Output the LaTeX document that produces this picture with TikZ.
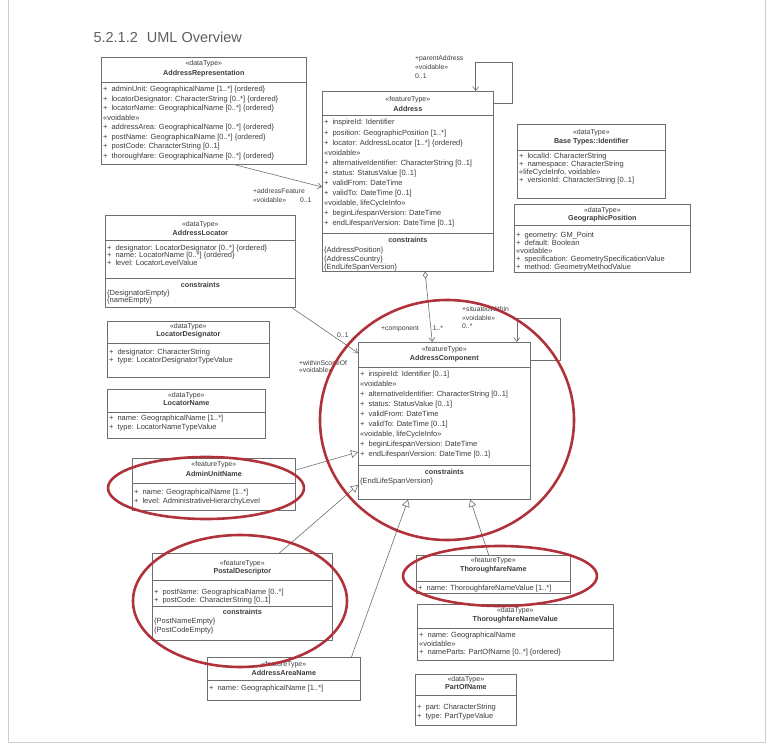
\documentclass[tikz,border=0pt]{standalone}
\usepackage{fontspec}
\setmainfont{Liberation Sans}
\usetikzlibrary{arrows.meta,calc}
\definecolor{frameline}{RGB}{205,205,205}
\definecolor{boxline}{RGB}{110,110,110}
\definecolor{txt}{RGB}{60,60,60}
\definecolor{mark}{RGB}{176,50,58}
\definecolor{titlegray}{RGB}{95,95,95}
\newcommand\pub{+\hspace{4pt}}

\begin{document}
\begin{tikzpicture}[x=1pt,y=-1pt,
    cls/.style={draw=boxline,line width=0.7pt,fill=white,inner sep=0pt,
      anchor=north west},
    sep/.style={draw=boxline,line width=0.7pt},
    stereo/.style={font=\fontsize{7}{8}\selectfont,text=txt,inner sep=0pt},
    cname/.style={font=\fontsize{7.2}{8}\selectfont\bfseries,text=txt,inner sep=0pt},
    attrs/.style={font=\fontsize{7.5}{#1}\selectfont,text=txt,inner sep=0pt,
      align=left,anchor=north west},
    role/.style={font=\fontsize{6.8}{#1}\selectfont,text=txt,inner sep=0pt,
      align=left,anchor=north west},
    assoc/.style={draw=boxline,line width=0.6pt,-{Straight Barb[length=4pt,width=6pt]}},
    gen/.style={draw=boxline,line width=0.6pt,-{Triangle[open,length=7pt,width=8pt]}},
    ring/.style={draw=mark,line width=2.6pt}
  ]
  \useasboundingbox (0,0) rectangle (772,749);
  \draw[frameline,line width=0.8pt] (8,0) -- (8,742) -- (765,742) -- (765,0);

  \node[font=\fontsize{14.5}{16}\selectfont,text=titlegray,anchor=west] (head)
    at (90,37) {5.2.1.2\hspace{9pt}UML Overview};

  % AddressRepresentation
  \node[cls,minimum width=205,minimum height=107] (repr) at (101,57) {};
  \draw[sep] (repr.west |- 0,82) -- (repr.east |- 0,82);
  \node[stereo] (repr-s) at (repr.north |- 0,63.5) {«dataType»};
  \node[cname] (repr-n) at (repr.north |- 0,74) {AddressRepresentation};
  \node[attrs=9.5] (repr-a) at (103,86) {\pub adminUnit: GeographicalName [1..*] \{ordered\}\\
    \pub locatorDesignator: CharacterString [0..*] \{ordered\}\\
    \pub locatorName: GeographicalName [0..*] \{ordered\}\\
    «voidable»\\
    \pub addressArea: GeographicalName [0..*] \{ordered\}\\
    \pub postName: GeographicalName [0..*] \{ordered\}\\
    \pub postCode: CharacterString [0..1]\\
    \pub thoroughfare: GeographicalName [0..*] \{ordered\}};

  % Address
  \node[cls,minimum width=171,minimum height=180] (addr) at (322,91) {};
  \draw[sep] (addr.west |- 0,115) -- (addr.east |- 0,115);
  \draw[sep] (addr.west |- 0,233) -- (addr.east |- 0,233);
  \node[stereo] (addr-s) at (addr.north |- 0,100) {«featureType»};
  \node[cname] (addr-n) at (addr.north |- 0,108.5) {Address};
  \node[attrs=10.1] (addr-a) at (324,119.3) {\pub inspireId: Identifier\\
    \pub position: GeographicPosition [1..*]\\
    \pub locator: AddressLocator [1..*] \{ordered\}\\
    «voidable»\\
    \pub alternativeIdentifier: CharacterString [0..1]\\
    \pub status: StatusValue [0..1]\\
    \pub validFrom: DateTime\\
    \pub validTo: DateTime [0..1]\\
    «voidable, lifeCycleInfo»\\
    \pub beginLifespanVersion: DateTime\\
    \pub endLifespanVersion: DateTime [0..1]};
  \node[cname] (addr-c) at (addr.north |- 0,240) {constraints};
  \node[attrs=8.4] (addr-k) at (324,247) {\{AddressPosition\}\\
    \{AddressCountry\}\\
    \{EndLifeSpanVersion\}};

  % Base Types::Identifier
  \node[cls,minimum width=148,minimum height=74] (ident) at (517,124) {};
  \draw[sep] (ident.west |- 0,150) -- (ident.east |- 0,150);
  \node[stereo] (ident-s) at (ident.north |- 0,133) {«dataType»};
  \node[cname] (ident-n) at (ident.north |- 0,141.5) {Base Types::Identifier};
  \node[attrs=8] (ident-a) at (519,153) {\pub localId: CharacterString\\
    \pub namespace: CharacterString\\
    «lifeCycleInfo, voidable»\\
    \pub versionId: CharacterString [0..1]};

  % GeographicPosition
  \node[cls,minimum width=176,minimum height=68] (geopos) at (514,204) {};
  \draw[sep] (geopos.west |- 0,225) -- (geopos.east |- 0,225);
  \node[stereo] (geopos-s) at (geopos.north |- 0,210.5) {«dataType»};
  \node[cname] (geopos-n) at (geopos.north |- 0,218.5) {GeographicPosition};
  \node[attrs=7.9] (geopos-a) at (516,232) {\pub geometry: GM\_Point\\
    \pub default: Boolean\\
    «voidable»\\
    \pub specification: GeometrySpecificationValue\\
    \pub method: GeometryMethodValue};

  % AddressLocator
  \node[cls,minimum width=190,minimum height=92] (locator) at (105,215) {};
  \draw[sep] (locator.west |- 0,240) -- (locator.east |- 0,240);
  \draw[sep] (locator.west |- 0,278) -- (locator.east |- 0,278);
  \node[stereo] (locator-s) at (locator.north |- 0,225) {«dataType»};
  \node[cname] (locator-n) at (locator.north |- 0,233) {AddressLocator};
  \node[attrs=7.8] (locator-a) at (107,244.5) {\pub designator: LocatorDesignator [0..*] \{ordered\}\\
    \pub name: LocatorName [0..*] \{ordered\}\\
    \pub level: LocatorLevelValue};
  \node[cname] (locator-c) at (locator.north |- 0,285) {constraints};
  \node[attrs=7.2] (locator-k) at (107,289.5) {\{DesignatorEmpty\}\\
    \{nameEmpty\}};

  % LocatorDesignator
  \node[cls,minimum width=162,minimum height=56] (desig) at (107,321) {};
  \draw[sep] (desig.west |- 0,343) -- (desig.east |- 0,343);
  \node[stereo] (desig-s) at (desig.north |- 0,327) {«dataType»};
  \node[cname] (desig-n) at (desig.north |- 0,335) {LocatorDesignator};
  \node[attrs=8.3] (desig-a) at (109,348.5) {\pub designator: CharacterString\\
    \pub type: LocatorDesignatorTypeValue};

  % LocatorName
  \node[cls,minimum width=158,minimum height=49] (locname) at (107,389) {};
  \draw[sep] (locname.west |- 0,412) -- (locname.east |- 0,412);
  \node[stereo] (locname-s) at (locname.north |- 0,395.5) {«dataType»};
  \node[cname] (locname-n) at (locname.north |- 0,403.5) {LocatorName};
  \node[attrs=8.4] (locname-a) at (109,415.3) {\pub name: GeographicalName [1..*]\\
    \pub type: LocatorNameTypeValue};

  % AddressComponent
  \node[cls,minimum width=172,minimum height=157] (comp) at (358,342) {};
  \draw[sep] (comp.west |- 0,367) -- (comp.east |- 0,367);
  \draw[sep] (comp.west |- 0,465) -- (comp.east |- 0,465);
  \node[stereo] (comp-s) at (comp.north |- 0,349.5) {«featureType»};
  \node[cname] (comp-n) at (comp.north |- 0,358.3) {AddressComponent};
  \node[attrs=10] (comp-a) at (360,371) {\pub inspireId: Identifier [0..1]\\
    «voidable»\\
    \pub alternativeIdentifier: CharacterString [0..1]\\
    \pub status: StatusValue [0..1]\\
    \pub validFrom: DateTime\\
    \pub validTo: DateTime [0..1]\\
    «voidable, lifeCycleInfo»\\
    \pub beginLifespanVersion: DateTime\\
    \pub endLifespanVersion: DateTime [0..1]};
  \node[cname] (comp-c) at (comp.north |- 0,471.7) {constraints};
  \node[attrs=8] (comp-k) at (360,477.5) {\{EndLifeSpanVersion\}};

  % AdminUnitName
  \node[cls,minimum width=163,minimum height=52] (admin) at (132,458) {};
  \draw[sep] (admin.west |- 0,483) -- (admin.east |- 0,483);
  \node[stereo] (admin-s) at (admin.north |- 0,465) {«featureType»};
  \node[cname] (admin-n) at (admin.north |- 0,473.5) {AdminUnitName};
  \node[attrs=9] (admin-a) at (134,488.7) {\pub name: GeographicalName [1..*]\\
    \pub level: AdministrativeHierarchyLevel};

  % PostalDescriptor
  \node[cls,minimum width=180,minimum height=87] (postal) at (152,553) {};
  \draw[sep] (postal.west |- 0,580) -- (postal.east |- 0,580);
  \draw[sep] (postal.west |- 0,606.7) -- (postal.east |- 0,606.7);
  \node[stereo] (postal-s) at (postal.north |- 0,563.3) {«featureType»};
  \node[cname] (postal-n) at (postal.north |- 0,571.7) {PostalDescriptor};
  \node[attrs=8.4] (postal-a) at (154,588.7) {\pub postName: GeographicalName [0..*]\\
    \pub postCode: CharacterString [0..1]};
  \node[cname] (postal-c) at (postal.north |- 0,611.7) {constraints};
  \node[attrs=8.4] (postal-k) at (154,618) {\{PostNameEmpty\}\\
    \{PostCodeEmpty\}};

  % ThoroughfareName
  \node[cls,minimum width=154,minimum height=38] (tfname) at (416,555) {};
  \draw[sep] (tfname.west |- 0,581) -- (tfname.east |- 0,581);
  \node[stereo] (tfname-s) at (tfname.north |- 0,561) {«featureType»};
  \node[cname] (tfname-n) at (tfname.north |- 0,570) {ThoroughfareName};
  \node[attrs=8] (tfname-a) at (418,584.7) {\pub name: ThoroughfareNameValue [1..*]};

  % ThoroughfareNameValue
  \node[cls,minimum width=196,minimum height=56] (tfvalue) at (417,604) {};
  \draw[sep] (tfvalue.west |- 0,628) -- (tfvalue.east |- 0,628);
  \node[stereo] (tfvalue-s) at (tfvalue.north |- 0,611) {«dataType»};
  \node[cname] (tfvalue-n) at (tfvalue.north |- 0,620) {ThoroughfareNameValue};
  \node[attrs=8.6] (tfvalue-a) at (419,632) {\pub name: GeographicalName\\
    «voidable»\\
    \pub nameParts: PartOfName [0..*] \{ordered\}};

  % AddressAreaName
  \node[cls,minimum width=153,minimum height=43] (area) at (207,657) {};
  \draw[sep] (area.west |- 0,680) -- (area.east |- 0,680);
  \node[stereo] (area-s) at (area.north |- 0,665) {«featureType»};
  \node[cname] (area-n) at (area.north |- 0,673.3) {AddressAreaName};
  \node[attrs=8] (area-a) at (209,684.7) {\pub name: GeographicalName [1..*]};

  % PartOfName
  \node[cls,minimum width=101,minimum height=51] (part) at (415,674) {};
  \draw[sep] (part.west |- 0,695) -- (part.east |- 0,695);
  \node[stereo] (part-s) at (part.north |- 0,680) {«dataType»};
  \node[cname] (part-n) at (part.north |- 0,687) {PartOfName};
  \node[attrs=9] (part-a) at (417,703.7) {\pub part: CharacterString\\
    \pub type: PartTypeValue};

  % associations
  \coordinate (pa) at (512,62);
  \draw[assoc] ($(addr.north east)+(0,12)$) -| (pa) -| ($(addr.north west)!0.895!(addr.north east)$);
  \node[role=9] (pa-r) at (415,55.5) {+parentAddress\\ «voidable»\\ 0..1};

  \draw[assoc] ($(repr.south west)!0.65!(repr.south east)$) -- ($(addr.north west)+(0,96)$);
  \node[role=9] (af-r) at (253,188.5) {+addressFeature\\ «voidable»\hspace{14pt}0..1};

  \draw[draw=boxline,line width=0.6pt,{Diamond[open,length=7pt,width=5pt]}-{Straight Barb[length=4pt,width=6pt]}]
    ($(addr.south west)!0.6!(addr.south east)$) -- ($(comp.north west)!0.43!(comp.north east)$);
  \node[role=8] (co-r) at (381,326) {+component\hspace{14pt}1..*};

  \coordinate (sw) at (560,318);
  \draw[assoc] ($(comp.north east)+(0,18)$) -| (sw) -| ($(comp.north west)!0.92!(comp.north east)$);
  \node[role=8.5] (sw-r) at (462,306.5) {+situatedWithin\\ «voidable»\\ 0..*};

  \draw[assoc] ($(locator.south west)!0.98!(locator.south east)$) -- ($(comp.north west)+(0,11)$);
  \node[role=7.5] (ws-r) at (299,360) {+withinScopeOf\\ «voidable»};
  \node[role=8] (ws-m) at (337,333) {0..1};

  % generalizations
  \draw[gen] ($(admin.north east)!0.23!(admin.south east)$) -- ($(comp.north west)+(0,110)$);
  \draw[gen] ($(postal.north west)!0.705!(postal.north east)$) -- ($(comp.north west)+(0,143)$);
  \draw[gen] ($(area.north west)!0.94!(area.north east)$) -- ($(comp.south west)!0.29!(comp.south east)$);
  \draw[gen] ($(tfname.north west)!0.47!(tfname.north east)$) -- ($(comp.south west)!0.65!(comp.south east)$);

  % highlights
  \draw[ring] (447,420) ellipse [x radius=127,y radius=120];
  \draw[ring] (206,488) ellipse [x radius=98,y radius=31];
  \draw[ring] (240,601) ellipse [x radius=107,y radius=66];
  \draw[ring] (500,576) ellipse [x radius=97,y radius=30];
\end{tikzpicture}
\end{document}
